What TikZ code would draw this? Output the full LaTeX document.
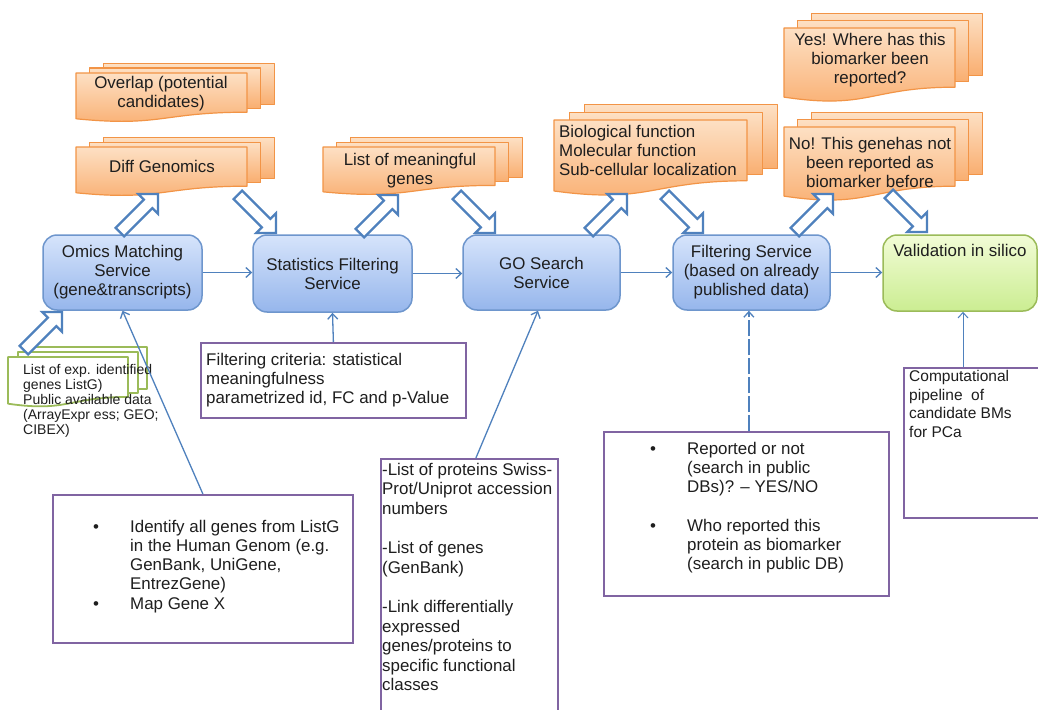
\documentclass[tikz,border=0pt]{standalone}
\usepackage{fontspec}
\setmainfont{Liberation Sans}
\usetikzlibrary{arrows.meta,calc,shadows}
\definecolor{bline}{RGB}{79,129,189}
\definecolor{btop}{RGB}{214,228,251}
\definecolor{bbot}{RGB}{150,182,236}
\definecolor{bborder}{RGB}{110,150,205}
\definecolor{gtop}{RGB}{242,252,214}
\definecolor{gbot}{RGB}{203,237,146}
\definecolor{gborder}{RGB}{155,187,89}
\definecolor{otop}{RGB}{253,224,196}
\definecolor{obot}{RGB}{249,174,112}
\definecolor{oborder}{RGB}{242,148,70}
\definecolor{pborder}{RGB}{128,100,162}
\definecolor{txt}{RGB}{30,30,30}
\newcommand\fs{\fontsize{16.9}{19}\selectfont}
\newcommand\fsg{\fontsize{14}{15}\selectfont}
\newcommand\fsc{\fontsize{15.5}{18.7}\selectfont}
\newcommand\multidoc[5]{%
  \pgfmathsetmacro\mdx{0.08*(#3-#1)}%
  \pgfmathsetmacro\mdy{0.1*#4}%
  \foreach \k in {2,1}{%
    \path[#5] ({#1+\k*\mdx},{#2-\k*\mdy}) rectangle ({#3+\k*\mdx},{#2+0.8*#4-0.8*\k*\mdy});
  }%
  \path[#5] (#1,#2) -- (#3,#2) -- (#3,{#2+0.8*#4}) .. controls ({(#1+#3)/2},{#2+0.8*#4}) and ({(#1+#3)/2},{#2+1.107*#4}) .. (#1,{#2+0.934*#4}) -- cycle;
}
\tikzset{
  bluebox/.style={draw=bborder, line width=1.5pt, rounded corners=14pt, top color=btop, bottom color=bbot, align=center, font=\fs, text=txt, inner sep=0pt},
  greenbox/.style={draw=gborder, line width=1.5pt, rounded corners=14pt, top color=gtop, bottom color=gbot, inner sep=0pt},
  purplebox/.style={draw=pborder, line width=1.8pt, fill=white, inner sep=0pt, anchor=north west,
    drop shadow={shadow xshift=1.5pt, shadow yshift=-1.5pt, opacity=0.25}},
  orangedoc/.style={draw=oborder, line width=1.2pt, top color=otop, bottom color=obot, line join=round},
  greendoc/.style={draw=gborder, line width=1.8pt, fill=white, line join=round},
  tx/.style={font=\fs, text=txt, inner sep=0pt},
  conn/.style={draw=bline, line width=1.3pt, -{Straight Barb[length=5.5pt,width=10pt]}},
  barrowNE/.pic={\draw[bline, line width=2.2pt, fill=white, line join=miter]
    (0,0) -- (0,19.8) -- (-5.66,14.14) -- (-33.9,42.4) -- (-42.4,33.9) -- (-14.14,5.66) -- (-19.8,0) -- cycle;},
  barrowSE/.pic={\draw[bline, line width=2.2pt, fill=white, line join=miter]
    (0,0) -- (0,-19.8) -- (-5.66,-14.14) -- (-33.9,-42.4) -- (-42.4,-33.9) -- (-14.14,-5.66) -- (-19.8,0) -- cycle;}
}
\begin{document}
\begin{tikzpicture}[x=1pt,y=-1pt]
\useasboundingbox[fill=white] (0,0) rectangle (1038,709);

% orange multi-documents
\multidoc{76}{73}{247}{49}{orangedoc}
\multidoc{76}{147}{247}{49}{orangedoc}
\multidoc{323}{147}{495}{48}{orangedoc}
\multidoc{554}{120}{747}{76}{orangedoc}
\multidoc{784}{28}{955}{74}{orangedoc}
\multidoc{784}{127}{955}{74}{orangedoc}
% green multi-document
\multidoc{8}{357}{128}{50}{greendoc}

\node[tx, align=center] (ovtxt) at (161,94) {Overlap (potential\\candidates)};
\node[tx, align=center] (dgtxt) at (162,166) {Diff Genomics};
\node[tx, align=center] (lmtxt) at (410,171) {List of meaningful\\genes};
\node[tx, align=left, anchor=west] (biotxt) at (559,150) {Biological function\\Molecular function\\Sub-cellular localization};
\node[tx, align=center] (yestxt) at (870,60) {Yes! Where has this\\biomarker been\\reported?};
\node[tx, align=center] (notxt) at (870,162) {No! This genehas not\\been reported as\\biomarker before};
\node[tx, font=\fsg, align=left, anchor=north west] (grtxt) at (23,364) {List of exp. identified\\genes ListG)\\Public available data\\(ArrayExpr ess; GEO;\\CIBEX)};

% main boxes
\node[bluebox, minimum width=159pt, minimum height=75pt] (omics) at (122.5,272.5) {Omics Matching\\Service\\(gene\&transcripts)};
\node[bluebox, minimum width=159pt, minimum height=77pt] (stat) at (332.5,273.5) {Statistics Filtering\\Service};
\node[bluebox, minimum width=157pt, minimum height=75pt] (go) at (541.5,272.5) {GO Search\\Service};
\node[bluebox, minimum width=157pt, minimum height=75pt] (filt) at (751.5,272.5) {Filtering Service\\(based on already\\published data)};
\node[greenbox, minimum width=154pt, minimum height=76pt] (valid) at (960,273) {};
\node[tx] (validtxt) at (960,250) {Validation in silico};

% purple boxes
\node[purplebox, minimum width=265pt, minimum height=75pt] (crit) at (200,342) {};
\node[tx, align=left, anchor=west] (crittxt) at (206,380) {Filtering criteria: statistical\\meaningfulness\\parametrized id, FC and p-Value};

\node[purplebox, minimum width=300pt, minimum height=148pt] (idbox) at (52,494) {};
\node[tx, anchor=base] (idb1) at (96,532) {•};
\node[tx, align=left, anchor=north west] (idt1) at (130,520) {Identify all genes from ListG\\in the Human Genom (e.g.\\GenBank, UniGene,\\EntrezGene)};
\node[tx, anchor=base] (idb2) at (96,609) {•};
\node[tx, align=left, anchor=north west] (idt2) at (130,597) {Map Gene X};

\node[purplebox, minimum width=177pt, minimum height=260pt] (prot) at (380,458) {};
\node[tx, font=\fontsize{16.9}{19.5}\selectfont, align=left, anchor=north west] (prottxt) at (382,463) {-List of proteins Swiss-\\Prot/Uniprot accession\\numbers\\[20pt]-List of genes\\(GenBank)\\[20pt]-Link differentially\\expressed\\genes/proteins to\\specific functional\\classes};

\node[purplebox, minimum width=285pt, minimum height=164pt] (rep) at (603,431) {};
\node[tx, anchor=base] (repb1) at (653,454) {•};
\node[tx, align=left, anchor=north west] (rept1) at (687,442) {Reported or not\\(search in public\\DBs)? – YES/NO};
\node[tx, anchor=base] (repb2) at (653,531) {•};
\node[tx, align=left, anchor=north west] (rept2) at (687,519) {Who reported this\\protein as biomarker\\(search in public DB)};

\node[purplebox, minimum width=142pt, minimum height=150pt] (comp) at (903,367) {};
\node[tx, font=\fsc, align=left, anchor=north west] (comptxt) at (909,370) {Computational\\pipeline\ \ of\\candidate BMs\\for PCa};

% block arrows
\pic at (158,194) {barrowNE};
\pic at (276,233) {barrowSE};
\pic at (398,195) {barrowNE};
\pic at (495,233) {barrowSE};
\pic at (627,194) {barrowNE};
\pic at (703,233) {barrowSE};
\pic at (833,194) {barrowNE};
\pic at (927,232) {barrowSE};
\pic at (62,312) {barrowNE};

% connectors
\draw[conn] (omics.east) -- (omics.east -| stat.west);
\draw[conn] (stat.east) -- (stat.east -| go.west);
\draw[conn] (go.east) -- (go.east -| filt.west);
\draw[conn] (filt.east) -- (filt.east -| valid.west);
\draw[conn] (crit.north) -- (stat.south);
\draw[conn] (idbox.north) -- (omics.south);
\draw[conn] ([xshift=6.5pt]prot.north) -- ([xshift=-3.5pt]go.south);
\draw[conn, dash pattern=on 16pt off 3pt] ([xshift=2.5pt]rep.north) -- ([xshift=2.5pt]rep.north |- filt.south);
\draw[conn, line width=1pt] ([xshift=3pt]valid.south |- comp.north) -- ([xshift=3pt]valid.south);
\end{tikzpicture}
\end{document}
